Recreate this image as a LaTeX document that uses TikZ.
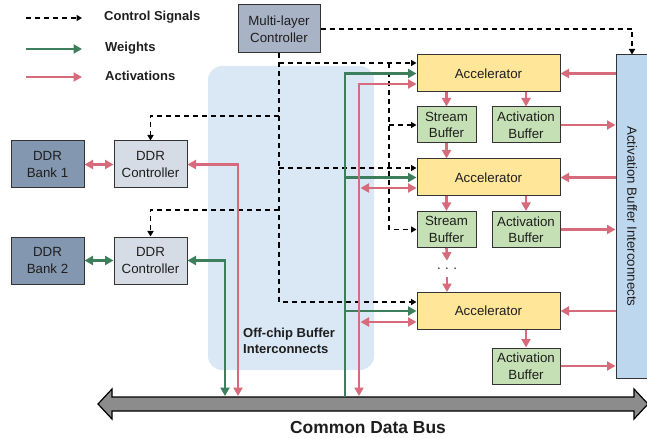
\documentclass[tikz,border=0pt]{standalone}
\usepackage{fontspec}
\setmainfont{Liberation Sans}
\usetikzlibrary{arrows.meta,calc}

\definecolor{actred}{HTML}{D86B7B}
\definecolor{wgtgreen}{HTML}{3D7F5C}
\definecolor{ctrlgray}{HTML}{A9B3C6}
\definecolor{bankblue}{HTML}{8497B0}
\definecolor{ddrgray}{HTML}{D6DCE5}
\definecolor{accyellow}{HTML}{FFE699}
\definecolor{bufgreen}{HTML}{C5E0B4}
\definecolor{abiblue}{HTML}{BDD7EE}
\definecolor{regionblue}{HTML}{DAE7F4}
\definecolor{busgray}{HTML}{8C8C8C}
\definecolor{edgegray}{HTML}{333333}
\definecolor{txt}{HTML}{1E1E1E}

\begin{document}
\begin{tikzpicture}[x=1pt,y=-1pt,
  >={Triangle[length=8.5pt,width=9pt]},
  box/.style={draw=edgegray, line width=1pt, align=center, inner sep=0pt,
    text=txt, font=\fontsize{13.3}{16.5}\selectfont},
  ctrlbox/.style={box, fill=ctrlgray, minimum width=82pt, minimum height=48pt},
  bankbox/.style={box, fill=bankblue, minimum width=73pt, minimum height=47pt},
  ddrbox/.style={box, fill=ddrgray, minimum width=73pt, minimum height=47pt},
  accbox/.style={box, fill=accyellow, minimum width=143pt, minimum height=37pt},
  sbuf/.style={box, fill=bufgreen, minimum width=59pt, minimum height=36pt},
  abuf/.style={box, fill=bufgreen, minimum width=68pt, minimum height=36pt},
  ctrl/.style={draw=black, line width=1.4pt, dash pattern=on 5pt off 4pt,
    -{Triangle[length=5.5pt,width=6pt]}},
  wgt/.style={draw=wgtgreen, line width=2.6pt},
  act/.style={draw=actred, line width=2.6pt},
  legendtxt/.style={anchor=west, inner sep=0pt, text=txt,
    font=\bfseries\fontsize{13}{15}\selectfont}
]
\useasboundingbox (0,0) rectangle (647,438);

% off-chip buffer interconnect region
\fill[regionblue, rounded corners=14pt] (208,66) rectangle (374,370);
\node[anchor=west, align=left, inner sep=0pt, text=txt,
  font=\bfseries\fontsize{13}{16.5}\selectfont] (offlbl) at (243,341)
  {Off-chip Buffer\\Interconnects};

% common data bus
\filldraw[fill=busgray, draw=black, line width=1.2pt]
  (98,404) -- (112,389) -- (112,397) -- (634,397) -- (634,389) -- (648,404)
  -- (634,419) -- (634,411) -- (112,411) -- (112,419) -- cycle;
\node[inner sep=0pt, text=txt, font=\bfseries\fontsize{17.4}{20}\selectfont]
  (buslbl) at (368,428) {Common Data Bus};

% legend
\coordinate (la1) at (26,18);  \coordinate (lb1) at (82,18);
\coordinate (la2) at (26,49);  \coordinate (lb2) at (82,49);
\coordinate (la3) at (26,77);  \coordinate (lb3) at (82,77);
\draw[ctrl] (la1) -- (lb1);
\draw[wgt,->] (la2) -- (lb2);
\draw[act,->] (la3) -- (lb3);
\node[legendtxt] (lt1) at (104,17) {Control Signals};
\node[legendtxt] (lt2) at (105,48) {Weights};
\node[legendtxt] (lt3) at (105,76) {Activations};

% blocks
\node[ctrlbox] (mlc) at (279,29) {Multi-layer\\Controller};
\node[bankbox] (ddrb1) at (47.5,164.5) {DDR\\Bank 1};
\node[ddrbox]  (ddrc1) at (150.5,164.5) {DDR\\Controller};
\node[bankbox] (ddrb2) at (47.5,260.5) {DDR\\Bank 2};
\node[ddrbox]  (ddrc2) at (150.5,260.5) {DDR\\Controller};

\node[accbox] (acc1) at (488.5,73.5) {Accelerator};
\node[sbuf] (sb1) at (446.5,125) {Stream\\Buffer};
\node[abuf] (ab1) at (526,125) {Activation\\Buffer};
\node[accbox] (acc2) at (488.5,177.5) {Accelerator};
\node[sbuf] (sb2) at (446.5,229.5) {Stream\\Buffer};
\node[abuf] (ab2) at (526,229.5) {Activation\\Buffer};
\node[inner sep=0pt, minimum height=16pt, text=txt,
  font=\fontsize{13.3}{16}\selectfont] (dots) at (447,269) {.\,\,.\,\,.};
\node[accbox] (acc3) at (488.5,311) {Accelerator};
\node[abuf] (ab3) at (526,366) {Activation\\Buffer};

\node[box, fill=abiblue, minimum width=32pt, minimum height=323pt] (abi) at (632,216.5) {};
\node[rotate=-90, inner sep=0pt, text=txt, font=\fontsize{13.3}{16}\selectfont]
  (abilbl) at (abi.center) {Activation Buffer Interconnects};

% control signals
\coordinate (cA) at (279,63);
\coordinate (cB) at (279,116);
\coordinate (cC) at (279,168);
\coordinate (cD) at (279,210);
\coordinate (cE) at (389,63);
\draw[ctrl] (mlc.east) -| (abi.north);
\draw[ctrl] (mlc.south) |- ([yshift=9pt]acc3.west);
\draw[ctrl] (cA) -- (cA -| acc1.west);
\draw[ctrl] (cE) |- (sb2.west);
\draw[ctrl] (cE |- sb1.west) -- (sb1.west);
\draw[ctrl] (cB) -| (ddrc1.north);
\draw[ctrl] (cC) -- (cC -| acc2.west);
\draw[ctrl] (cD) -| (ddrc2.north);

% weights
\coordinate (gbus) at (345,397);
\coordinate (gddr) at (225,396);
\draw[wgt,->] (gbus) |- (acc1.west);
\draw[wgt,->] (gbus |- acc2.west) -- (acc2.west);
\draw[wgt,->] (gbus |- acc3.west) -- (acc3.west);
\draw[wgt,<->] (ddrc2.east) -| (gddr);
\draw[wgt,<->] (ddrb2.east) -- (ddrc2.west);

% activations
\coordinate (rbus) at (359,396);
\coordinate (rside) at (360.5,396);
\coordinate (rddr) at (238,396);
\coordinate (a1) at ($(acc1.west)+(0,10.5)$);
\coordinate (a2) at ($(acc2.west)+(0,10.5)$);
\coordinate (a3) at ($(acc3.west)+(0,11)$);
\draw[act,<->] (a1) -| (rbus);
\draw[act,<->] (rside |- a2) -- (a2);
\draw[act,<->] (rside |- a3) -- (a3);
\draw[act,<->] (ddrc1.east) -| (rddr);
\draw[act,<->] (ddrb1.east) -- (ddrc1.west);

\draw[act,->] (abi.west |- acc1.east) -- (acc1.east);
\draw[act,->] (abi.west |- acc2.east) -- (acc2.east);
\draw[act,->] (abi.west |- acc3.east) -- (acc3.east);
\draw[act,->] (ab1.east) -- (ab1.east -| abi.west);
\draw[act,->] (ab2.east) -- (ab2.east -| abi.west);
\draw[act,->] (ab3.east) -- (ab3.east -| abi.west);

\draw[act,->] (acc1.south -| sb1.north) -- (sb1.north);
\draw[act,->] (acc1.south -| ab1.north) -- (ab1.north);
\draw[act,->] (sb1.south) -- (sb1.south |- acc2.north);
\draw[act,->] (acc2.south -| sb2.north) -- (sb2.north);
\draw[act,->] (acc2.south -| ab2.north) -- (ab2.north);
\draw[act,->] (sb2.south) -- (dots.north);
\draw[act,->] (dots.south) -- (dots.south |- acc3.north);
\draw[act,->] (acc3.south -| ab3.north) -- (ab3.north);
\end{tikzpicture}
\end{document}
